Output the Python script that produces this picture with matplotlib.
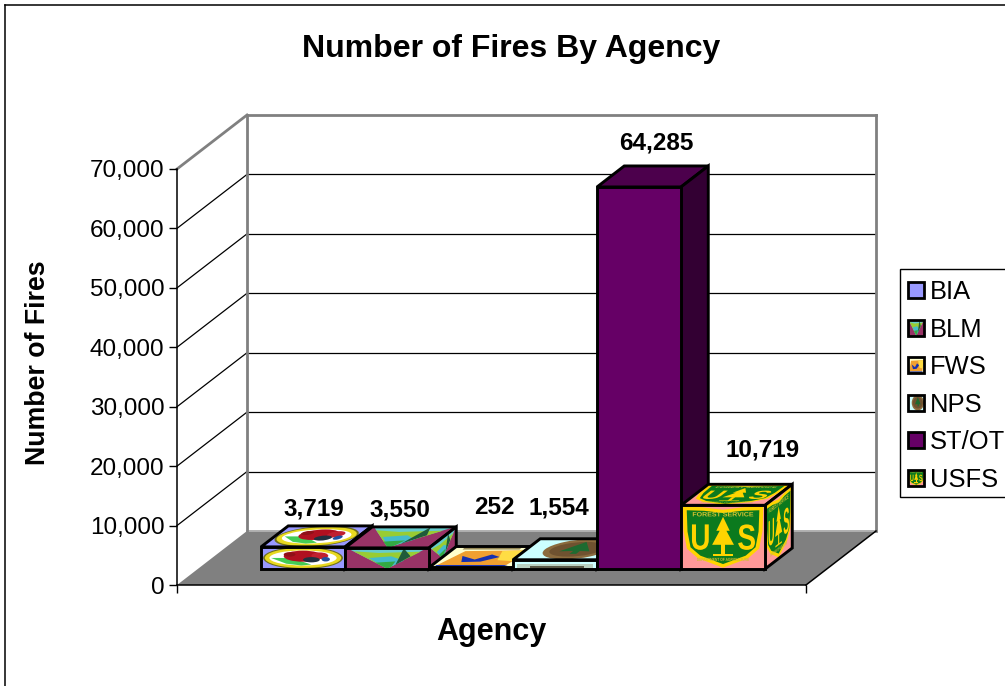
import matplotlib
matplotlib.use("Agg")
import matplotlib.pyplot as plt
from matplotlib.patches import Polygon, Ellipse, Rectangle, PathPatch, Patch
from matplotlib.lines import Line2D
from matplotlib.textpath import TextPath
from matplotlib.transforms import Affine2D
from matplotlib.font_manager import FontProperties
from matplotlib.ticker import FuncFormatter
from matplotlib.legend_handler import HandlerBase

AGENCIES = ["BIA", "BLM", "FWS", "NPS", "ST/OT", "USFS"]
FIRES = [3719, 3550, 252, 1554, 64285, 10719]
Y_TICKS = [0, 10000, 20000, 30000, 40000, 50000, 60000, 70000]

TITLE = "Number of Fires By Agency"
X_LABEL = "Agency"
Y_LABEL = "Number of Fires"

# hand-placed data labels, pixels relative to the back-top centre of each bar
LABEL_NUDGE = [(-16, 17), (-14, 17), (-4, 39), (-23, 31), (-10, 23), (12, 34)]

W, H = 1005, 686
FONT = "Liberation Sans"
plt.rcParams["font.family"] = FONT

fig = plt.figure(figsize=(W / 100, H / 100), dpi=100, facecolor="white")
AX_L, AX_R, AX_T, AX_B = 177, 806, 169, 585
ax = fig.add_axes([AX_L / W, 1 - AX_B / H, (AX_R - AX_L) / W, (AX_B - AX_T) / H])
ax.patch.set_alpha(0)

SLOT_PX = 84.0
ORIGIN_PX = 240.3
X0 = (AX_L - ORIGIN_PX) / SLOT_PX
X1 = (AX_R - ORIGIN_PX) / SLOT_PX
YMAX = Y_TICKS[-1]
ax.set_xlim(X0, X1)
ax.set_ylim(0, YMAX)

PX_Y = YMAX / (AX_B - AX_T)
DEPTH_DX = 70 / SLOT_PX
DEPTH_DY = 54 * PX_Y
BAR_D0 = 16 / 54
BAR_D1 = 37 / 54


def project(x, value, depth):
    """Map a point on the oblique 3-D chart box to axes data coordinates."""
    return x + depth * DEPTH_DX, value + depth * DEPTH_DY


_z = [0.1]


def next_z():
    _z[0] += 0.0005
    return _z[0]


def add(artist):
    artist.set_zorder(next_z())
    artist.set_clip_on(False)
    if isinstance(artist, Line2D):
        ax.add_line(artist)
    else:
        ax.add_patch(artist)
    return artist


# ---- chart box -------------------------------------------------------------
GRAY = "#808080"
add(Polygon([project(X0, 0, 0), project(X0, 0, 1), project(X0, YMAX, 1), project(X0, YMAX, 0)],
            facecolor="white", edgecolor="none"))
add(Polygon([project(X0, 0, 1), project(X1, 0, 1), project(X1, YMAX, 1), project(X0, YMAX, 1)],
            facecolor="white", edgecolor="none"))
add(Polygon([project(X0, 0, 0), project(X1, 0, 0), project(X1, 0, 1), project(X0, 0, 1)],
            facecolor=GRAY, edgecolor="none"))


def seg(a, b, color="black", lw=0.8):
    add(Line2D([a[0], b[0]], [a[1], b[1]], color=color, lw=lw, solid_capstyle="projecting"))


for tick in Y_TICKS[1:-1]:
    seg(project(X0, tick, 0), project(X0, tick, 1), lw=0.9)
    seg(project(X0, tick, 1), project(X1, tick, 1), lw=0.9)
seg(project(X0, 0, 1), project(X1, 0, 1), "#b0b0b0", 1.4)
seg(project(X0, YMAX, 0), project(X0, YMAX, 1), GRAY, 2.0)
seg(project(X0, YMAX, 1), project(X1, YMAX, 1), GRAY, 2.0)
seg(project(X0, 0, 1), project(X0, YMAX, 1), GRAY, 2.0)
seg(project(X1, 0, 1), project(X1, YMAX, 1), GRAY, 2.0)
seg(project(X1, 0, 0), project(X1, 0, 1), "black", 1.1)


# ---- bar face artwork, described on a unit square --------------------------
BOLD = FontProperties(family=FONT, weight="bold")


def glyphs(text, cx, cy, w, h, color):
    tp = TextPath((0, 0), text, size=1, prop=BOLD)
    box = tp.get_extents()
    m = Affine2D().translate(-box.x0 - box.width / 2, -box.y0 - box.height / 2)
    m = m.scale(w / box.width, h / box.height).translate(cx, cy)
    return PathPatch(m.transform_path(tp), facecolor=color, edgecolor="none")


def poly(points, color):
    return Polygon(points, closed=True, facecolor=color, edgecolor="none")


def ell(cx, cy, w, h, color):
    return Ellipse((cx, cy), w, h, facecolor=color, edgecolor="none")


def art_bia():
    return [
        Rectangle((0, 0), 1, 1, facecolor="#9999FF", edgecolor="none"),
        ell(.5, .5, .95, 1.0, "#6f6f1c"),
        ell(.5, .5, .91, .9, "#E8D820"),
        ell(.5, .5, .8, .68, "white"),
        poly([(.12, .5), (.3, .24), (.48, .16), (.6, .2), (.36, .5)], "#44CC55"),
        ell(.5, .58, .46, .5, "#B01020"),
        ell(.7, .6, .2, .3, "#C02030"),
        ell(.6, .42, .2, .24, "#203040"),
        ell(.34, .66, .14, .2, "#901018"),
        ell(.77, .44, .1, .2, "#2050A0"),
    ]


def art_blm():
    return [
        Rectangle((0, 0), 1, 1, facecolor="#993366", edgecolor="none"),
        poly([(.02, 1), (.98, 1), (.5, .02)], "#66CCCC"),
        poly([(.1, .84), (.4, .76), (.9, .82), (.5, .02)], "#99CC33"),
        poly([(.28, .52), (.55, .6), (.7, .4), (.5, .02)], "#44BBCC"),
        poly([(.36, .3), (.6, .36), (.55, .1), (.5, .02)], "#33AA44"),
        poly([(.7, .98), (.78, .6), (.6, .2)], "#1F5B3A"),
    ]


def art_fws():
    return [
        Rectangle((0, 0), 1, 1, facecolor="#FFFFCC", edgecolor="none"),
        poly([(.18, .78), (.95, .82), (.88, .12), (.06, .12)], "#F0A030"),
        poly([(.62, .78), (.95, .82), (.9, .3), (.7, .35)], "#FFDD44"),
        poly([(.05, .12), (.9, .12), (.85, .03), (.05, .03)], "#1530B0"),
        poly([(.22, .55), (.42, .38), (.55, .62), (.68, .5), (.52, .28), (.3, .26)], "#1530B0"),
        poly([(.12, .92), (.8, .92), (.8, .86), (.12, .86)], "#807040"),
    ]


def art_nps():
    return [
        Rectangle((0, 0), 1, 1, facecolor="#CCFFFF", edgecolor="none"),
        ell(.6, .5, .76, .96, "#8B6B3E"),
        ell(.6, .5, .62, .7, "#6F5230"),
        poly([(.6, .85), (.78, .4), (.66, .42), (.66, .28), (.58, .28), (.58, .42), (.42, .4)], "#1E6B30"),
    ]


def art_nps_front():
    return [
        Rectangle((0, 0), 1, 1, facecolor="#CCFFFF", edgecolor="none"),
        Rectangle((.05, .08), .9, .42, facecolor="#B8D0C0", edgecolor="none"),
        Rectangle((.2, .12), .65, .25, facecolor="#5A5A48", edgecolor="none"),
    ]


def art_plain():
    return []


def art_usfs():
    shield = [(.02, .98), (.25, .97), (.5, .93), (.75, .97), (.98, .98), (.97, .6), (.93, .32),
              (.8, .17), (.62, .08), (.5, .02), (.38, .08), (.2, .17), (.07, .32), (.03, .6)]
    inner = [(.5 + (u - .5) * .9, .5 + (v - .5) * .88) for u, v in shield]
    return [
        Rectangle((0, 0), 1, 1, facecolor="#FF9999", edgecolor="none"),
        poly(shield, "#FFD400"),
        poly(inner, "#0B7A1E"),
        poly([(.5, .82), (.58, .6), (.54, .6), (.63, .38), (.37, .38), (.46, .6), (.42, .6)], "#FFD400"),
        Rectangle((.48, .22), .04, .17, facecolor="#FFD400", edgecolor="none"),
        Rectangle((.38, .21), .24, .025, facecolor="#FFD400", edgecolor="none"),
        glyphs("U", .23, .5, .2, .4, "#FFD400"),
        glyphs("S", .78, .5, .2, .4, "#FFD400"),
        glyphs("FOREST SERVICE", .5, .86, .72, .07, "#CFC030"),
        glyphs("DEPARTMENT OF AGRICULTURE", .5, .15, .62, .05, "#CFC030"),
    ]


FRONT_ART = [art_bia, art_blm, art_fws, art_nps_front, art_plain, art_usfs]
TOP_ART = [art_bia, art_blm, art_fws, art_nps, art_plain, art_usfs]
SIDE_ART = [art_bia, art_blm, art_fws, art_nps, art_plain, art_usfs]
FACE_COLORS = {"ST/OT": ("#660066", "#4C004C", "#330033")}


def paint_face(art, corners, color):
    """Fill a parallelogram (origin, u end, opposite, v end) and stretch its artwork onto it."""
    (x0, y0), (x1, y1), _, (x3, y3) = corners
    unit = Affine2D.from_values(x1 - x0, y1 - y0, x3 - x0, y3 - y0, x0, y0)
    trans = unit + ax.transData
    add(Polygon(corners, facecolor=color, edgecolor="none"))
    frame = Rectangle((0, 0), 1, 1, transform=trans)
    for item in art():
        item.set_zorder(next_z())
        ax.add_patch(item)
        item.set_transform(trans)
        item.set_clip_path(frame)
    add(Polygon(corners, closed=True, fill=False, edgecolor="black", lw=2.1, joinstyle="miter"))


def on_bar(x, v, d):
    px, py = project(x, 0, d)
    return px, py + v


for i, (name, value) in enumerate(zip(AGENCIES, FIRES)):
    left, right = float(i), float(i + 1)
    d0, d1 = BAR_D0, BAR_D1
    front_color, top_color, side_color = FACE_COLORS.get(name, ("white", "white", "white"))
    paint_face(TOP_ART[i], [on_bar(left, value, d0), on_bar(right, value, d0),
                            on_bar(right, value, d1), on_bar(left, value, d1)], top_color)
    paint_face(SIDE_ART[i], [on_bar(right, 0, d0), on_bar(right, 0, d1),
                             on_bar(right, value, d1), on_bar(right, value, d0)], side_color)
    paint_face(FRONT_ART[i], [on_bar(left, 0, d0), on_bar(right, 0, d0),
                              on_bar(right, value, d0), on_bar(left, value, d0)], front_color)

for i, value in enumerate(FIRES):
    dx, dy = LABEL_NUDGE[i]
    ax.annotate(f"{value:,}", on_bar(i + .5, value, BAR_D1), xytext=(dx, dy), textcoords="offset pixels",
                ha="center", va="center", fontsize=17.5, fontweight="bold", color="black",
                annotation_clip=False, zorder=3)

# ---- axes ------------------------------------------------------------------
for side in ("top", "right"):
    ax.spines[side].set_visible(False)
for side in ("left", "bottom"):
    ax.spines[side].set_linewidth(1.1)
ax.set_yticks(Y_TICKS)
ax.yaxis.set_major_formatter(FuncFormatter(lambda v, _: f"{int(v):,}"))
ax.set_xticks([X0, X1])
ax.set_xticklabels([])
ax.tick_params(axis="both", length=6, width=1.0, labelsize=17.5, pad=3)

# ---- chart area frame, titles ----------------------------------------------
fig.add_artist(Line2D([5 / W, 5 / W], [0, 1 - 5 / H], color="black", lw=1.1))
fig.add_artist(Line2D([5 / W, 1], [1 - 5 / H, 1 - 5 / H], color="black", lw=1.1))
fig.text(511 / W, 1 - 49 / H, TITLE, ha="center", va="center", fontsize=23, fontweight="bold")
fig.text(491 / W, 1 - 632 / H, X_LABEL, ha="center", va="center", fontsize=22, fontweight="bold")
fig.text(38 / W, 1 - 363 / H, Y_LABEL, ha="center", va="center", rotation=90, fontsize=19.3, fontweight="bold")


# ---- legend ----------------------------------------------------------------
class ArtHandle(Patch):
    def __init__(self, art, color):
        super().__init__(facecolor=color)
        self.art = art


class ArtHandler(HandlerBase):
    def create_artists(self, legend, orig, xdescent, ydescent, width, height, fontsize, trans):
        side = min(width, height)
        x0 = -xdescent
        y0 = -ydescent + (height - side) / 2
        unit = Affine2D().scale(side).translate(x0, y0) + trans
        out = [Rectangle((0, 0), 1, 1, facecolor=orig.get_facecolor(), edgecolor="none", transform=unit)]
        frame = Rectangle((0, 0), 1, 1, transform=unit)
        for item in orig.art():
            item.set_transform(unit)
            item.set_clip_path(frame)
            out.append(item)
        out.append(Rectangle((0, 0), 1, 1, fill=False, edgecolor="black", lw=2.0, transform=unit))
        return out


# the box runs off the right edge, so it is drawn apart from the legend's entries
fig.add_artist(Rectangle((900 / W, 1 - 497 / H), 120 / W, 228 / H, transform=fig.transFigure,
                         facecolor="white", edgecolor="black", lw=1.0, zorder=4))

LEGEND_ART = [art_plain, art_blm, art_fws, art_nps, art_plain, art_usfs]
LEGEND_COLORS = ["#9999FF", "#66AAAA", "#FFFFCC", "#CCFFFF", "#660066", "#FF9999"]
handles = [ArtHandle(a, c) for a, c in zip(LEGEND_ART, LEGEND_COLORS)]
leg = fig.legend(handles, AGENCIES, handler_map={ArtHandle: ArtHandler()},
                 loc="upper left", bbox_to_anchor=(900 / W, 1 - 272 / H), borderaxespad=0,
                 fontsize=18.4, frameon=False,
                 handlelength=0.63, handleheight=0.63, handletextpad=0.23, labelspacing=0.53,
                 borderpad=0.32)
leg.set_zorder(5)

fig.savefig("out.png", dpi=100, facecolor="white")
